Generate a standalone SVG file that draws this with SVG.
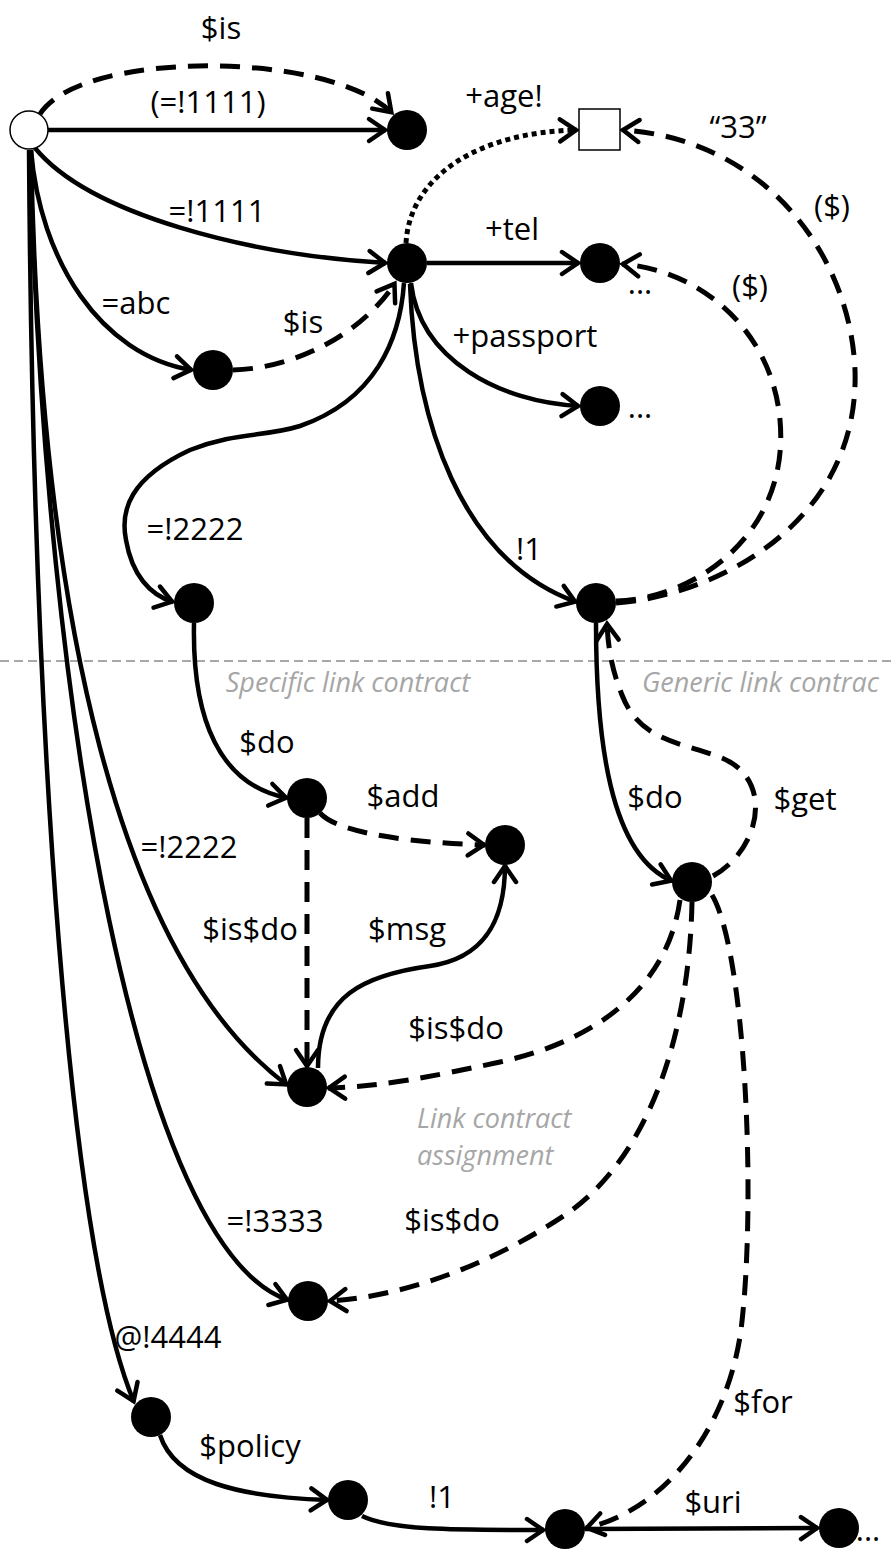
<svg xmlns="http://www.w3.org/2000/svg" width="895" height="1549" viewBox="0 0 895 1549">
<style>
  .lbl { font-family: "Open Sans", "Liberation Sans", sans-serif; font-size: 31px; fill: #000; text-anchor: middle; }
  .note { font-family: "Open Sans", "Liberation Sans", sans-serif; font-size: 27px; font-style: italic; fill: #a6a6a6; }
  .solid { fill: none; stroke: #000; stroke-width: 4.5; marker-end: url(#arr); }
  .dash { fill: none; stroke: #000; stroke-width: 5; stroke-dasharray: 20 12; marker-end: url(#arr); }
  .dot { fill: none; stroke: #000; stroke-width: 5; stroke-dasharray: 5 4; marker-end: url(#arr); }
  .node { fill: #000; }
</style>
<defs>
  <marker id="arr" markerUnits="userSpaceOnUse" markerWidth="44" markerHeight="44" viewBox="-22 -22 44 44" refX="0" refY="0" orient="auto" overflow="visible">
    <path d="M -17 -11 L -1 0 L -17 11" fill="none" stroke="#000" stroke-width="4.5" stroke-dasharray="none" stroke-linecap="round" stroke-linejoin="miter"/>
  </marker>
</defs>
<rect x="0" y="0" width="895" height="1549" fill="#fff"/>

<line x1="0" y1="661" x2="895" y2="661" stroke="#8c8c8c" stroke-width="1.5" stroke-dasharray="9 5"/>

<g id="connectors">
  <path class="dash" d="M 40 114 C 80 50, 330 50, 392 113"/>
  <path class="solid" d="M 48 130 L 386 130"/>
  <path class="solid" d="M 35 148 C 90 215, 250 255, 386 263"/>
  <path class="solid" d="M 31 150 C 40 260, 100 355, 192 370"/>
  <path class="dash" d="M 233 370 C 300 368, 365 330, 395 283"/>
  <path class="dot" d="M 406 243 C 410 175, 480 132, 577 130"/>
  <path class="solid" d="M 427 263 L 579 263"/>
  <path class="solid" d="M 411 283 C 420 360, 500 402, 579 406"/>
  <path class="solid" d="M 404 283 C 400 340, 375 400, 300 426 C 265 437, 235 432, 190 450 C 130 478, 120 510, 126 540 C 132 575, 150 595, 173 602"/>
  <path class="solid" d="M 410 284 C 415 420, 460 560, 576 602"/>
  <path class="dash" d="M 616 601 C 700 598, 790 530, 780 420 C 772 330, 700 270, 622 264"/>
  <path class="dash" d="M 616 603 C 720 595, 860 520, 855 370 C 850 250, 760 138, 622 130"/>
  <path class="solid" d="M 31 150 C 40 620, 120 960, 287 1085"/>
  <path class="solid" d="M 30 150 C 45 720, 140 1250, 288 1300"/>
  <path class="solid" d="M 29 150 C 33 750, 70 1250, 134 1402"/>
  <path class="solid" d="M 194 623 C 192 720, 220 785, 287 798"/>
  <path class="dash" d="M 320 813 C 340 835, 420 843, 485 845"/>
  <path class="dash" d="M 307 818 L 307 1067"/>
  <path class="solid" d="M 318 1068 C 318 995, 365 975, 430 966 C 485 958, 505 920, 505 865"/>
  <path class="solid" d="M 596 623 C 596 740, 610 855, 672 881"/>
  <path class="dash" d="M 713 876 C 760 850, 775 780, 722 758 C 682 742, 640 742, 622 695 C 612 670, 608 648, 607 623"/>
  <path class="dash" d="M 680 900 C 668 985, 600 1040, 500 1062 C 430 1077, 380 1087, 328 1088"/>
  <path class="dash" d="M 692 902 C 690 1010, 660 1150, 565 1215 C 485 1268, 400 1297, 329 1301"/>
  <path class="dash" d="M 712 895 C 745 950, 757 1200, 741 1330 C 727 1430, 665 1510, 586 1528"/>
  <path class="solid" d="M 160 1435 C 175 1482, 240 1497, 328 1500"/>
  <path class="solid" d="M 362 1516 C 390 1530, 450 1530, 544 1530"/>
  <path class="solid" d="M 585 1529 L 818 1528"/>
</g>

<g id="root"><circle cx="29" cy="130" r="19" fill="#fff" stroke="#000" stroke-width="1.5"/></g>
<g id="nA"><circle class="node" cx="407" cy="130" r="20"/></g>
<g id="nB"><circle class="node" cx="407" cy="263" r="20"/></g>
<g id="nC"><circle class="node" cx="213" cy="370" r="20"/></g>
<g id="nAge"><rect x="579" y="109" width="41" height="41" fill="#fff" stroke="#000" stroke-width="1.5"/></g>
<g id="nTel"><circle class="node" cx="600" cy="263" r="20"/></g>
<g id="nPassport"><circle class="node" cx="600" cy="406" r="20"/></g>
<g id="nD"><circle class="node" cx="194" cy="603" r="20"/></g>
<g id="nE"><circle class="node" cx="596" cy="603" r="20"/></g>
<g id="nF"><circle class="node" cx="307" cy="798" r="20"/></g>
<g id="nG"><circle class="node" cx="505" cy="845" r="20"/></g>
<g id="nH"><circle class="node" cx="692" cy="882" r="20"/></g>
<g id="nI"><circle class="node" cx="307" cy="1087" r="20"/></g>
<g id="nJ"><circle class="node" cx="308" cy="1301" r="20"/></g>
<g id="nK"><circle class="node" cx="151" cy="1417" r="20"/></g>
<g id="nL"><circle class="node" cx="348" cy="1500" r="20"/></g>
<g id="nM"><circle class="node" cx="565" cy="1529" r="20"/></g>
<g id="nN"><circle class="node" cx="839" cy="1528" r="20"/></g>

<g id="labels">
  <text class="lbl" x="221" y="39">$is</text>
  <text class="lbl" x="208" y="113">(=!1111)</text>
  <text class="lbl" x="217" y="222">=!1111</text>
  <text class="lbl" x="136" y="314">=abc</text>
  <text class="lbl" x="303" y="333">$is</text>
  <text class="lbl" x="504" y="107">+age!</text>
  <text class="lbl" x="738" y="138">“33”</text>
  <text class="lbl" x="832" y="217">($)</text>
  <text class="lbl" x="512" y="240">+tel</text>
  <text class="lbl" x="640" y="294">...</text>
  <text class="lbl" x="750" y="297">($)</text>
  <text class="lbl" x="525" y="347">+passport</text>
  <text class="lbl" x="640" y="418">...</text>
  <text class="lbl" x="195" y="540">=!2222</text>
  <text class="lbl" x="529" y="560">!1</text>
  <text class="note" x="348" y="692" text-anchor="middle">Specific link contract</text>
  <text class="note" x="642" y="692">Generic link contrac</text>
  <text class="lbl" x="267" y="753">$do</text>
  <text class="lbl" x="403" y="807">$add</text>
  <text class="lbl" x="655" y="808">$do</text>
  <text class="lbl" x="805" y="810">$get</text>
  <text class="lbl" x="189" y="858">=!2222</text>
  <text class="lbl" x="250" y="940">$is$do</text>
  <text class="lbl" x="407" y="940">$msg</text>
  <text class="lbl" x="456" y="1039">$is$do</text>
  <text class="note" x="417" y="1128">Link contract</text>
  <text class="note" x="417" y="1165">assignment</text>
  <text class="lbl" x="275" y="1232">=!3333</text>
  <text class="lbl" x="452" y="1231">$is$do</text>
  <text class="lbl" x="168" y="1348">@!4444</text>
  <text class="lbl" x="763" y="1413">$for</text>
  <text class="lbl" x="250" y="1457">$policy</text>
  <text class="lbl" x="442" y="1508">!1</text>
  <text class="lbl" x="713" y="1513">$uri</text>
  <text class="lbl" x="868" y="1541" text-anchor="start">...</text>
</g>
</svg>
